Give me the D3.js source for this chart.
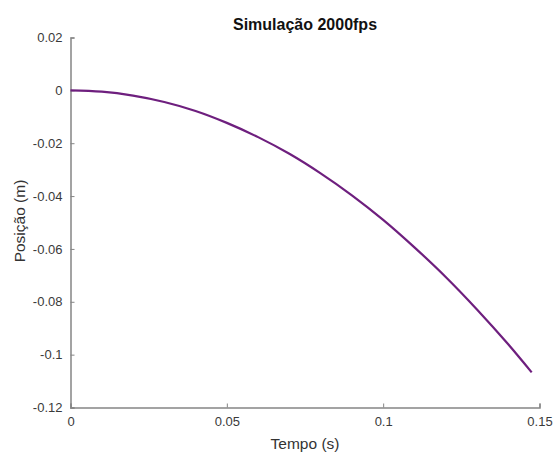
<!DOCTYPE html>
<html>
<head>
<meta charset="utf-8">
<script src="https://cdn.jsdelivr.net/npm/d3@7"></script>
<style>
  body { margin: 0; background: #fff; }
  text { font-family: "Liberation Sans", Arial, sans-serif; }
</style>
</head>
<body>
<script>
// values
var tempo   = [0, 0.01, 0.02, 0.03, 0.04, 0.05, 0.06, 0.07, 0.08, 0.09, 0.10, 0.11, 0.12, 0.13, 0.14, 0.1475];
var posicao = [0, -0.0005, -0.002, -0.0044, -0.0078, -0.0123, -0.0177, -0.024, -0.0314, -0.0397, -0.049, -0.0594, -0.0706, -0.0829, -0.0961, -0.1067];
var xTicks = [0, 0.05, 0.1, 0.15];
var yTicks = [0.02, 0, -0.02, -0.04, -0.06, -0.08, -0.1, -0.12];

var width = 553,
    height = 454;

var svg = d3.select("body").append("svg")
    .attr("width", width)
    .attr("height", height);

var x = d3.scaleLinear()
    .domain([0, 0.15])
    .range([70.5, 539.5]);

var y = d3.scaleLinear()
    .domain([-0.12, 0.02])
    .range([407.5, 37.5]);

var axisColor = "#858585";
var fmt = function(d){ return String(+d.toFixed(2)); };

// x axis, ticks pointing inward (matlab style)
var xAxis = svg.append("g")
    .attr("transform", "translate(0," + y(-0.12) + ")")
    .call(d3.axisBottom(x).tickValues(xTicks).tickSizeInner(-4).tickSizeOuter(-4)
        .tickFormat(fmt).tickPadding(9));

var yAxis = svg.append("g")
    .attr("transform", "translate(" + x(0) + ",0)")
    .call(d3.axisLeft(y).tickValues(yTicks).tickSizeInner(-4).tickSizeOuter(-4)
        .tickFormat(fmt).tickPadding(8));

[xAxis, yAxis].forEach(function(a){
    a.select(".domain").attr("stroke", axisColor).attr("stroke-width", 1.5);
    a.selectAll(".tick line").attr("stroke", axisColor);
    a.selectAll(".tick text")
        .attr("fill", "#3a3a3a")
        .style("font-size", "13px")
        .style("font-family", "'Liberation Sans', Arial, sans-serif");
});

var line = d3.line()
    .x(function(d, i){ return x(tempo[i]); })
    .y(function(d){ return y(d); })
    .curve(d3.curveMonotoneX);

svg.append("path")
    .datum(posicao)
    .attr("d", line)
    .attr("fill", "none")
    .attr("stroke", "#6e1f7e")
    .attr("stroke-width", 2.2);

svg.append("text")
    .attr("x", 305)
    .attr("y", 29.5)
    .attr("text-anchor", "middle")
    .attr("font-weight", "bold")
    .attr("font-size", 16)
    .attr("fill", "#111")
    .text("Simulação 2000fps");

svg.append("text")
    .attr("x", 305)
    .attr("y", 449)
    .attr("text-anchor", "middle")
    .attr("font-size", 15.5)
    .attr("fill", "#333")
    .text("Tempo (s)");

svg.append("text")
    .attr("transform", "translate(25,221) rotate(-90)")
    .attr("text-anchor", "middle")
    .attr("font-size", 15.5)
    .attr("fill", "#333")
    .text("Posição (m)");
</script>
</body>
</html>
